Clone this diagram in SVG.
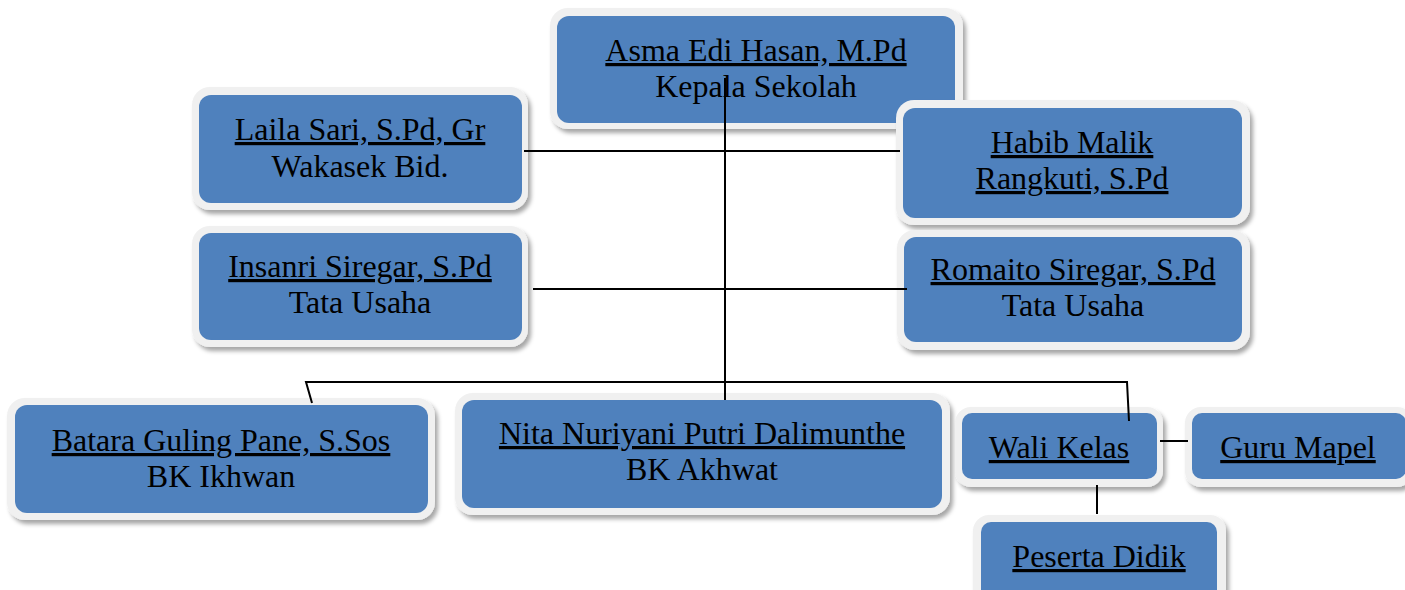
<svg xmlns="http://www.w3.org/2000/svg" width="1405" height="590" viewBox="0 0 1405 590">
<defs>
<filter id="sh" x="-10%" y="-10%" width="120%" height="130%">
<feDropShadow dx="3" dy="4" stdDeviation="2" flood-color="#000" flood-opacity="0.35"/>
</filter>
<style>
.o{fill:#f0f0f0;filter:url(#sh)}
.i{fill:#4f81bd}
text{font-family:"Liberation Serif","Times New Roman",serif;font-size:32px;fill:#000;text-anchor:middle}
.u{text-decoration:underline}
.c{stroke:#000;stroke-width:2;fill:none}
</style>
</defs>
<rect width="1405" height="590" fill="#fff"/>
<g id="kepala">
<rect class="o" x="550" y="8" width="413" height="121" rx="18"/>
<rect class="i" x="557" y="16" width="398" height="107" rx="12"/>
<text class="u" x="756" y="61">Asma Edi Hasan, M.Pd</text>
<text x="756" y="97">Kepala Sekolah</text>
</g>
<g id="laila">
<rect class="o" x="192" y="87" width="336" height="123" rx="18"/>
<rect class="i" x="199" y="95" width="323" height="108" rx="12"/>
<text class="u" x="360" y="140">Laila Sari, S.Pd, Gr</text>
<text x="360" y="177">Wakasek Bid.</text>
</g>
<g id="habib">
<rect class="o" x="896" y="100" width="354" height="125" rx="18"/>
<rect class="i" x="903" y="108" width="339" height="110" rx="12"/>
<text class="u" x="1072" y="153">Habib Malik</text>
<text class="u" x="1072" y="189">Rangkuti, S.Pd</text>
</g>
<g id="insanri">
<rect class="o" x="192" y="226" width="336" height="121" rx="18"/>
<rect class="i" x="199" y="233" width="323" height="107" rx="12"/>
<text class="u" x="360" y="277">Insanri Siregar, S.Pd</text>
<text x="360" y="313">Tata Usaha</text>
</g>
<g id="romaito">
<rect class="o" x="897" y="230" width="353" height="120" rx="18"/>
<rect class="i" x="904" y="237" width="338" height="105" rx="12"/>
<text class="u" x="1073" y="280">Romaito Siregar, S.Pd</text>
<text x="1073" y="316">Tata Usaha</text>
</g>
<g id="batara">
<rect class="o" x="7" y="398" width="428" height="122" rx="18"/>
<rect class="i" x="15" y="405" width="413" height="108" rx="12"/>
<text class="u" x="221" y="451">Batara Guling Pane, S.Sos</text>
<text x="221" y="487">BK Ikhwan</text>
</g>
<g id="nita">
<rect class="o" x="455" y="393" width="495" height="122" rx="18"/>
<rect class="i" x="462" y="400" width="480" height="108" rx="12"/>
<text class="u" x="702" y="444">Nita Nuriyani Putri Dalimunthe</text>
<text x="702" y="480">BK Akhwat</text>
</g>
<g id="walikelas">
<rect class="o" x="955" y="407" width="208" height="80" rx="16"/>
<rect class="i" x="962" y="413" width="195" height="66" rx="10"/>
<text class="u" x="1059" y="458">Wali Kelas</text>
</g>
<g id="gurumapel">
<rect class="o" x="1185" y="407" width="228" height="80" rx="16"/>
<rect class="i" x="1192" y="413" width="214" height="66" rx="10"/>
<text class="u" x="1298" y="458">Guru Mapel</text>
</g>
<g id="pesertadidik">
<rect class="o" x="973" y="515" width="253" height="90" rx="16"/>
<rect class="i" x="981" y="522" width="236" height="80" rx="10"/>
<text class="u" x="1099" y="567">Peserta Didik</text>
</g>
<g id="connectors">
<path class="c" d="M725 78 V400"/>
<path class="c" d="M524 151 H900"/>
<path class="c" d="M533 289 H907"/>
<path class="c" d="M312 403 L306 382 H1127 L1129 421"/>
<path class="c" d="M1160 441 H1188"/>
<path class="c" d="M1097 485 V514"/>
</g>
</svg>
